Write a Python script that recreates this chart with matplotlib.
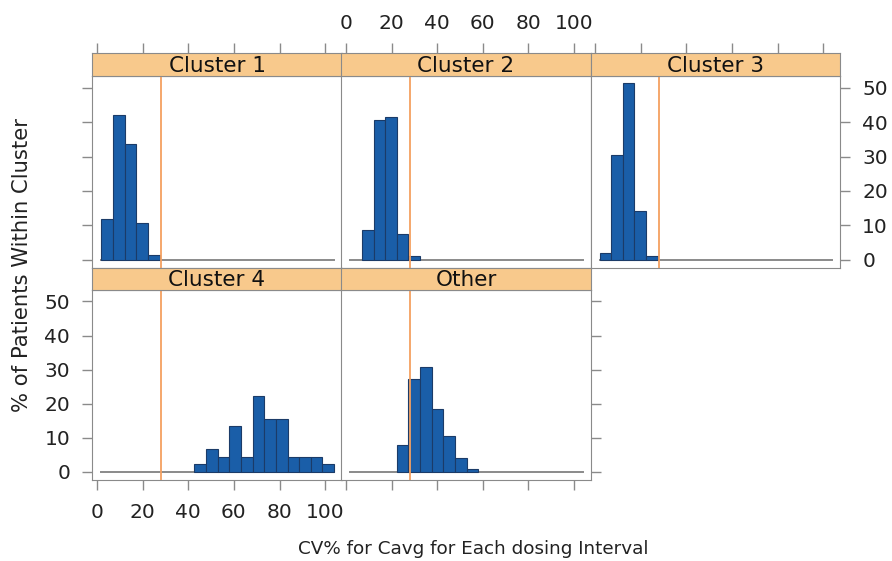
import numpy as np
import matplotlib
matplotlib.use("Agg")
from matplotlib import pyplot as plt

# histogram breaks (CV%), shared by all panels
bin_start = 1.9
bin_width = 5.1
n_bins = 20

panels = ["Cluster 1", "Cluster 2", "Cluster 3", "Cluster 4", "Other"]

# % of patients per bin (bins counted from bin_start)
cluster1 = [11.7, 42.2, 33.7, 10.6, 1.4] + [0] * 15
cluster2 = [0, 8.6, 40.5, 41.5, 7.6, 1.2] + [0] * 14
cluster3 = [2.0, 30.5, 51.5, 14.1, 1.2] + [0] * 15
cluster4 = [0] * 8 + [2.2, 6.7, 4.4, 13.3, 4.4, 22.2, 15.6, 15.6, 4.4, 4.4, 4.4, 2.2]
other = [0] * 4 + [7.9, 27.3, 30.8, 18.5, 10.5, 4.2, 0.9] + [0] * 9
heights = [cluster1, cluster2, cluster3, cluster4, other]

ref_line = 28
x_ticks = [0, 20, 40, 60, 80, 100]
y_ticks = [0, 10, 20, 30, 40, 50]

strip_col = "#f8c98c"
bar_col = "#1a5ea8"
bar_edge = "#1b3b68"
frame_col = "#8a8a8a"
line_col = "#f4a060"

W, H = 892, 561
fig = plt.figure(figsize=(W / 100, H / 100), dpi=100)
plt.rcParams["font.family"] = "DejaVu Sans"

pw = 249.5
lefts = [92.3, 341.2, 590.5]
# (left px, panel top px, panel bottom px)
layout = [
    (lefts[0], 75.7, 268.0),
    (lefts[1], 75.7, 268.0),
    (lefts[2], 75.7, 268.0),
    (lefts[0], 289.5, 480.0),
    (lefts[1], 289.5, 480.0),
]
strip_h = [22.4, 22.4, 22.4, 21.5, 21.5]

edges = bin_start + bin_width * np.arange(n_bins + 1)
xlim = (-2.07, 107.3)
ylim = (-2.4, 53.5)
fs = 14.5
tl = 7

for i, (name, h) in enumerate(zip(panels, heights)):
    l, t, b = layout[i]
    ax = fig.add_axes([l / W, (H - b) / H, pw / W, (b - t) / H])
    sax = fig.add_axes([l / W, (H - t) / H, pw / W, strip_h[i] / H])

    h = np.array(h)
    ax.plot([edges[0], edges[-1]], [0, 0], color=frame_col, lw=1.4, zorder=1)
    m = h > 0
    ax.bar(edges[:-1][m], h[m], width=bin_width, align="edge",
           color=bar_col, edgecolor=bar_edge, linewidth=0.8, zorder=2)
    ax.axvline(ref_line, color=line_col, lw=1.3, zorder=3)
    ax.set_xlim(xlim)
    ax.set_ylim(ylim)
    for s in ax.spines.values():
        s.set_color(frame_col)
    ax.tick_params(colors=frame_col, labelcolor="#222222", labelsize=fs,
                   length=tl, width=1, direction="out", pad=9)

    # x ticks
    ax.set_xticks(x_ticks)
    if i >= 3:
        ax.tick_params(axis="x", bottom=True, labelbottom=(i == 3), top=False,
                       labeltop=False, pad=9.5)
    else:
        ax.tick_params(axis="x", bottom=False, labelbottom=False)
    # y ticks
    ax.set_yticks(y_ticks)
    if i in (0, 3):
        ax.tick_params(axis="y", left=True, labelleft=(i == 3), right=False)
    elif i in (2, 4):
        ax.tick_params(axis="y", left=False, labelleft=False,
                       right=True, labelright=(i == 2))
    else:
        ax.tick_params(axis="y", left=False, labelleft=False)

    # strip
    sax.set_facecolor(strip_col)
    sax.set_xlim(xlim)
    sax.set_ylim(0, 1)
    sax.set_yticks([])
    for s in sax.spines.values():
        s.set_color(frame_col)
    sax.text(0.5, 0.45, name, transform=sax.transAxes, ha="center", va="center",
             fontsize=15.5, color="#111111")
    if i < 3:
        sax.set_xticks(x_ticks)
        sax.tick_params(axis="x", bottom=False, labelbottom=False, top=True,
                        labeltop=(i == 1), colors=frame_col, labelcolor="#222222",
                        labelsize=fs, length=tl, width=1, pad=7.5)
    else:
        sax.set_xticks([])

fig.text(473 / W, 1 - 549 / H, "CV% for Cavg for Each dosing Interval",
         ha="center", va="center", fontsize=13.2, color="#222222")
fig.text(22 / W, 1 - 265 / H, "% of Patients Within Cluster", rotation=90,
         ha="center", va="center", fontsize=15.2, color="#222222")

fig.savefig("out.png", dpi=100)
